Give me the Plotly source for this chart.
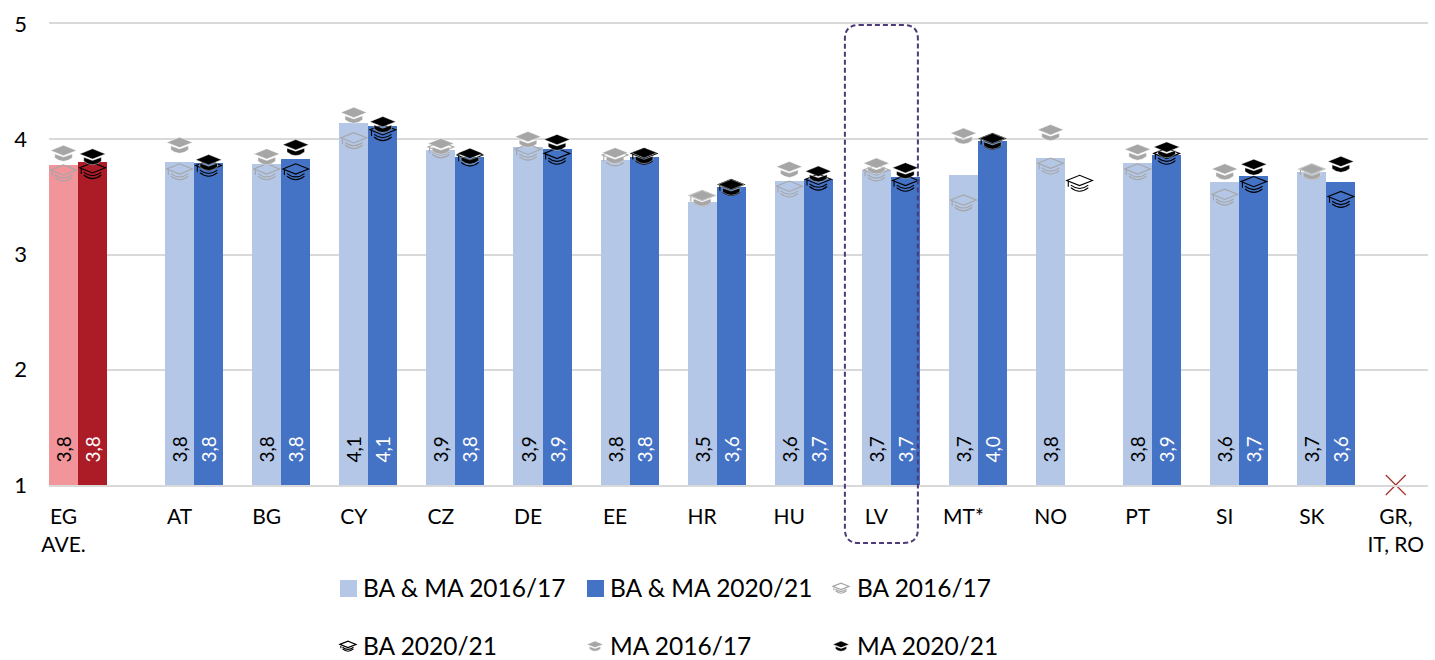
import plotly.graph_objects as go

countries = ["EG<br>AVE.", "AT", "BG", "CY", "CZ", "DE", "EE", "HR", "HU", "LV", "MT*", "NO", "PT", "SI", "SK"]
slots = [0, 1.333, 2.333, 3.333, 4.333, 5.333, 6.333, 7.333, 8.333, 9.333, 10.333, 11.333, 12.333, 13.333, 14.333]
missing_label = "GR,<br>IT, RO"
missing_slot = 15.13

all_2016 = [3.78, 3.80, 3.785, 4.14, 3.91, 3.93, 3.82, 3.455, 3.64, 3.73, 3.69, 3.84, 3.79, 3.63, 3.72]
all_2020 = [3.80, 3.79, 3.83, 4.115, 3.849, 3.915, 3.849, 3.585, 3.655, 3.67, 3.985, None, 3.86, 3.68, 3.63]
ba_2016 = [3.71, 3.72, 3.72, 3.99, 3.91, 3.89, 3.84, 3.49, 3.57, 3.71, 3.45, 3.77, 3.72, 3.50, 3.72]
ba_2020 = [3.73, 3.75, 3.72, 4.06, 3.84, 3.855, 3.855, 3.585, 3.63, 3.62, 3.985, 3.62, 3.855, 3.61, 3.48]
ma_2016 = [3.88, 3.95, 3.85, 4.21, 3.94, 4.00, 3.86, 3.49, 3.74, 3.77, 4.03, 4.06, 3.89, 3.72, 3.72]
ma_2020 = [3.85, 3.80, 3.93, 4.13, 3.855, 3.975, 3.86, 3.585, 3.70, 3.73, 3.985, None, 3.91, 3.76, 3.785]

W, H = 1435, 660
L, R, T, B = 49, 7, 24, 175
PW, PH = W - L - R, H - T - B
BW = 1 / 3
X0, X1 = -BW, 15.5
FONT = "Lato"
LIGHT, DARK, PINK, RED = "#b4c7e7", "#4472c4", "#f1959b", "#ab1c27"
GREY, BLACK = "#a6a6a6", "#000000"
CLEAR = "rgba(0,0,0,0)"
GRID = "#d9d9d9"
LABEL_PAD = "\u00a0" * 4
ROW1_Y, ROW2_Y = 588, 646


def fmt(v):
    return "" if v is None else LABEL_PAD + f"{v:.1f}".replace(".", ",")


fig = go.Figure()


def add_bars(x, y, colour, offset, tcol, name):
    labels = [fmt(v) for v in y]
    heights = [None if v is None else v - 1 for v in y]
    fig.add_bar(x=x, y=heights, base=1, name=name, width=BW, offset=offset, marker_color=colour, marker_line_width=0,
                text=labels, textposition="inside", insidetextanchor="start", textangle=-90,
                textfont=dict(family=FONT, size=19, color=tcol), constraintext="none",
                showlegend=False, hovertemplate=name + ": %{text}<extra></extra>")


add_bars(slots[1:], all_2016[1:], LIGHT, -BW, "black", "BA & MA 2016/17")
add_bars(slots[1:], all_2020[1:], DARK, 0, "white", "BA & MA 2020/21")
add_bars(slots[:1], all_2016[:1], PINK, -BW, "black", "EG AVE. 2016/17")
add_bars(slots[:1], all_2020[:1], RED, 0, "white", "EG AVE. 2020/21")

series = [
    ("BA 2016/17", ba_2016, -BW / 2, "legend", GREY, False),
    ("BA 2020/21", ba_2020, BW / 2, "legend2", BLACK, False),
    ("MA 2016/17", ma_2016, -BW / 2, "legend2", GREY, True),
    ("MA 2020/21", ma_2020, BW / 2, "legend2", BLACK, True),
]


def hat_path(s, filled):
    def p(x, y):
        return f"{x * s:.2f},{y * s:.2f}"
    cap = f"M{p(-12.5, 2.5)} L{p(0, 7.5)} L{p(12.5, 2.5)} L{p(0, -2.5)} Z"
    bowl = f"M{p(-8.5, -0.8)} L{p(0, -3.8)} L{p(8.5, -0.8)} L{p(8.5, -4.5)} Q{p(0, -11.5)} {p(-8.5, -4.5)} Z"
    tassel = f" M{p(-11, 1.8)} L{p(-11, -3.5)}"
    if filled:
        return cap + " " + bowl
    rim = f" M{p(-8.5, -4.5)} Q{p(0, -11.5)} {p(8.5, -4.5)} M{p(-8.5, -2)} Q{p(0, -8.5)} {p(8.5, -2)}"
    return cap + rim + tassel


def hat_shape(xref, yref, x, y, s, colour, filled, name):
    return dict(type="path", layer="above", xref=xref, yref=yref, xsizemode="pixel", ysizemode="pixel",
                xanchor=x, yanchor=y, path=hat_path(s, filled), name=name,
                fillcolor=colour if filled else CLEAR,
                line=dict(color="white" if filled else colour, width=0.4 if filled else 1.1))


shapes = []


def px(v):
    return (v - L) / PW


def py(v):
    return (H - B - v) / PH


# legend keys for the two bar series (drawn as shapes so the swatch has the reference's size)
for legend_x, colour, name in [(340, LIGHT, "BA & MA 2016/17"), (587, DARK, "BA & MA 2020/21")]:
    fig.add_scatter(x=[None], y=[None], mode="markers", name=name, legend="legend",
                    marker=dict(symbol="square", size=10, color=CLEAR, line_width=0))
    shapes.append(dict(type="rect", layer="above", xref="paper", yref="paper",
                       x0=px(legend_x), x1=px(legend_x + 17), y0=py(ROW1_Y + 9), y1=py(ROW1_Y - 8),
                       fillcolor=colour, line_width=0))

for name, vals, off, legend, colour, filled in series:
    xs = [sl + off for sl in slots]
    fig.add_scatter(x=xs, y=vals, mode="markers", name=name, legend=legend,
                    marker=dict(symbol="diamond-wide", size=14, color=CLEAR, line_width=0),
                    hovertemplate=name + ": %{y:.2f}<extra></extra>")
    for xv, yv in zip(xs, vals):
        if yv is not None:
            shapes.append(hat_shape("x", "y", xv, yv, 1.03, colour, filled, name))

# countries without data
fig.add_scatter(x=[missing_slot], y=[1], mode="markers", showlegend=False, cliponaxis=False, hoverinfo="skip",
                marker=dict(symbol="x-thin", size=20, line=dict(color="#a5302c", width=1.2), color="#a5302c"))

# legend icons (drawn beside the native legend texts)
for x_pos, y_pos, (name, vals, off, legend, colour, filled) in [
    (841, ROW1_Y, series[0]), (348, ROW2_Y, series[1]), (595, ROW2_Y, series[2]), (841, ROW2_Y, series[3])
]:
    shapes.append(hat_shape("paper", "paper", px(x_pos), py(y_pos), 0.65, colour, filled, name))

# highlight around LV
lv = slots[countries.index("LV")]
r = 14
xl, xr, top, bot = -46, 27, 0, -518
lv_path = (f"M{xl + r},{top} L{xr - r},{top} Q{xr},{top} {xr},{top - r} L{xr},{bot + r} Q{xr},{bot} {xr - r},{bot} "
           f"L{xl + r},{bot} Q{xl},{bot} {xl},{bot + r} L{xl},{top - r} Q{xl},{top} {xl + r},{top} Z")
shapes.append(dict(type="path", layer="above", xref="paper", yref="paper", xsizemode="pixel", ysizemode="pixel",
                   xanchor=(lv - X0) / (X1 - X0), yanchor=py(25), path=lv_path,
                   line=dict(color="#4b3b78", width=2, dash="5px,3px"), fillcolor=CLEAR))

legend_common = dict(orientation="h", xanchor="left", yanchor="middle", xref="container", yref="container",
                     entrywidth=202, entrywidthmode="pixels",
                     font=dict(family=FONT, size=24.5, color="black"), bgcolor=CLEAR,
                     traceorder="normal", itemclick=False, itemdoubleclick=False)

fig.update_layout(
    width=W, height=H, autosize=False, margin=dict(l=L, r=R, t=T, b=B, pad=0, autoexpand=False),
    plot_bgcolor="white", paper_bgcolor="white", barmode="overlay", bargap=0,
    font=dict(family=FONT, color="black"),
    xaxis=dict(range=[X0, X1], tickvals=[s - BW / 2 for s in slots] + [missing_slot],
               ticktext=countries + [missing_label], tickangle=0, showgrid=False, zeroline=False,
               showline=True, linecolor=GRID, linewidth=2, mirror=True, ticks="",
               tickfont=dict(family=FONT, size=21, color="black"), ticklabelstandoff=12),
    yaxis=dict(range=[1, 5], dtick=1, gridcolor=GRID, gridwidth=2, zeroline=False, showline=False, ticks="",
               tickfont=dict(family=FONT, size=22, color="black"), ticklabelstandoff=21),
    legend=dict(x=323 / W, y=1 - ROW1_Y / H, **legend_common),
    legend2=dict(x=323 / W, y=1 - ROW2_Y / H, **legend_common),
    shapes=shapes,
)

fig.write_html("out.html", config=dict(displayModeBar=False), post_script="document.body.style.margin='0';")
